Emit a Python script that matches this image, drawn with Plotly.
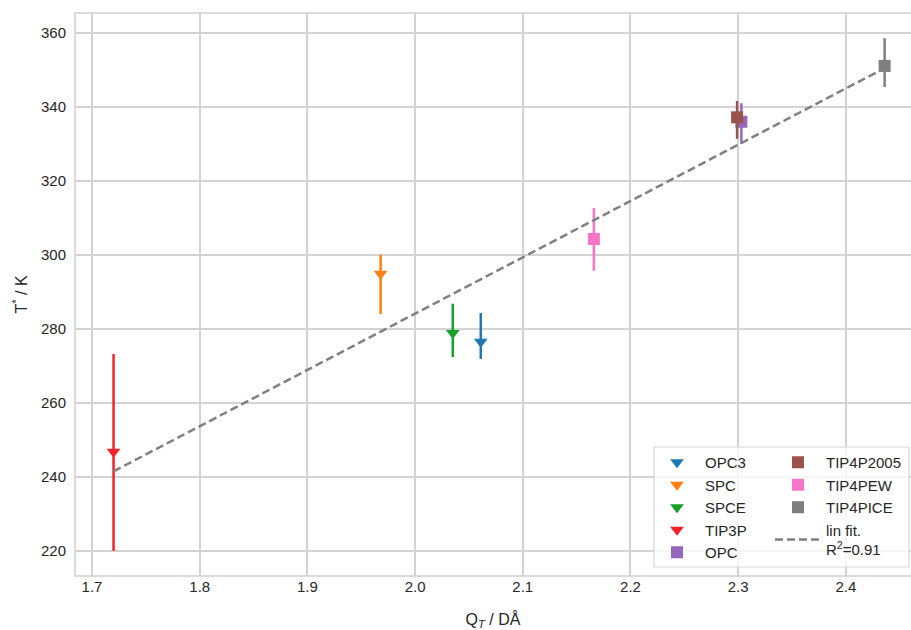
import plotly.graph_objects as go

# ---- data ----
names = ["OPC3", "SPC", "SPCE", "TIP3P", "OPC", "TIP4P2005", "TIP4PEW", "TIP4PICE"]
q_t = [2.061, 1.968, 2.035, 1.720, 2.303, 2.299, 2.166, 2.436]
t_star = [276.5, 294.9, 278.9, 246.8, 336.0, 337.2, 304.3, 351.1]
err_plus = [7.8, 5.1, 7.9, 26.4, 5.0, 4.4, 8.4, 7.5]
err_minus = [4.6, 10.9, 6.5, 26.8, 6.0, 5.8, 8.6, 5.7]
symbols = ["triangle-down"] * 4 + ["square"] * 4
colors = ["#1f77b4", "#ff7f0e", "#16a02a", "#f5222a",
          "#9467bd", "#99534a", "#f774c8", "#7f7f7f"]
legend_col = ["legend"] * 5 + ["legend2"] * 3

fit_x = [1.72, 2.436]
fit_y = [241.5, 350.5]
fit_label = "lin fit.<br>R<sup>2</sup>=0.91"

x_ticks = [1.7, 1.8, 1.9, 2.0, 2.1, 2.2, 2.3, 2.4]
y_ticks = [220, 240, 260, 280, 300, 320, 340, 360]

FONT = "Liberation Sans, Arial, sans-serif"
TXT = "#262626"

fig = go.Figure()

for i, n in enumerate(names):
    fig.add_trace(go.Scatter(
        x=[q_t[i]], y=[t_star[i]], mode="markers", name=n,
        legend=legend_col[i],
        marker=dict(symbol=symbols[i], size=12,
                    color=colors[i], line=dict(width=0)),
        error_y=dict(type="data", symmetric=False, array=[err_plus[i]],
                     arrayminus=[err_minus[i]], color=colors[i],
                     thickness=2.5, width=0),
    ))

fig.add_trace(go.Scatter(
    x=fit_x, y=fit_y, mode="lines", name=fit_label, legend="legend2",
    line=dict(color="#808080", width=2.5, dash="8px,4px"),
))

W, H = 911, 630
L, R, T, B = 75, 0, 13, 54
pw, ph = W - L - R, H - T - B

def px_x(p):
    return (p - L) / pw

def px_y(p):
    return (H - B - p) / ph

legend_common = dict(
    bgcolor="rgba(0,0,0,0)", borderwidth=0,
    font=dict(family=FONT, size=15, color=TXT),
    itemwidth=46, xanchor="left", yanchor="top",
    tracegroupgap=0, itemclick=False,
)

fig.update_layout(
    width=W, height=H,
    margin=dict(l=L, r=R, t=T, b=B, pad=0),
    paper_bgcolor="white", plot_bgcolor="white",
    font=dict(family=FONT, size=15, color=TXT),
    showlegend=True,
    legend=dict(x=px_x(649), y=px_y(446), **legend_common),
    legend2=dict(x=px_x(770), y=px_y(446), **legend_common),
    xaxis=dict(
        range=[1.6842, 2.4605], tickvals=x_ticks,
        ticktext=[f"{v:.1f}" for v in x_ticks],
        showgrid=True, gridcolor="#d3d3d3", gridwidth=1.5,
        zeroline=False, showline=False, ticks="",
        tickfont=dict(family=FONT, size=15, color=TXT),
        title=dict(text="Q<sub><i>T</i></sub> / DÅ", standoff=20,
                   font=dict(family=FONT, size=16, color=TXT)),
    ),
    yaxis=dict(
        range=[213.2, 365.4], tickvals=y_ticks,
        showgrid=True, gridcolor="#d3d3d3", gridwidth=1.5,
        zeroline=False, showline=False, ticks="",
        ticklabelstandoff=8,
        tickfont=dict(family=FONT, size=15, color=TXT),
        title=dict(text="T<sup>*</sup> / K", standoff=9,
                   font=dict(family=FONT, size=16, color=TXT)),
    ),
    shapes=[
        # axes frame (right side cropped in reference)
        dict(type="rect", xref="paper", yref="paper", x0=0, x1=1.05, y0=0, y1=1,
             line=dict(color="#d0d0d0", width=1.5), fillcolor="rgba(0,0,0,0)",
             layer="below"),
        # legend frame
        dict(type="rect", xref="paper", yref="paper",
             x0=px_x(654), x1=px_x(909), y0=px_y(567), y1=px_y(447),
             line=dict(color="#d6d6d6", width=1.2),
             fillcolor="rgba(255,255,255,0.8)", layer="above"),
    ],
)

fig.write_html("out.html")
